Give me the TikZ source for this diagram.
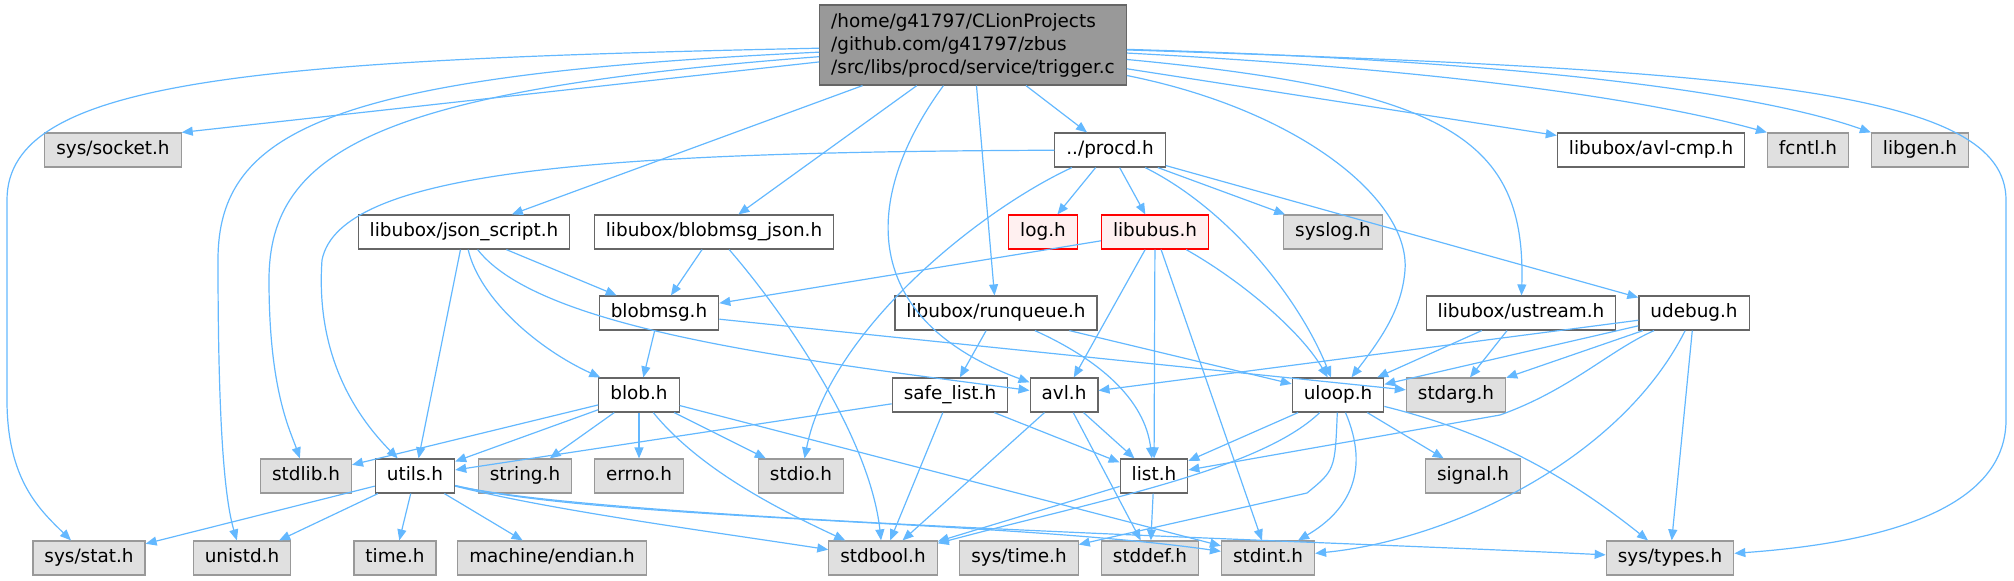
\documentclass[tikz,border=0pt]{standalone}
\usepackage{fontspec}
\setmainfont{DejaVu Sans}
\usetikzlibrary{arrows.meta}
\definecolor{edgeblue}{HTML}{63B8FF}
\definecolor{nodeline}{HTML}{666666}
\definecolor{extline}{HTML}{999999}
\definecolor{extfill}{HTML}{E0E0E0}
\definecolor{missfill}{HTML}{FFF0F0}

\begin{document}
\begin{tikzpicture}[
    x=0.5pt, y=-0.5pt,
    base/.style={line width=0.6pt, inner xsep=5.75pt, inner ysep=0pt, font=\fontsize{9.2}{11.5}\selectfont},
    hdr/.style={base, draw=nodeline, fill=white, minimum height=17pt, text height=7pt, text depth=2.2pt},
    ext/.style={hdr, draw=extline, fill=extfill},
    miss/.style={hdr, draw=red, fill=missfill},
    src/.style={base, draw=nodeline, fill=extline, align=left, minimum height=40pt},
    inc/.style={edgeblue, line width=0.6pt, -{Triangle[length=5.5pt, width=4.5pt]}}
]
\def\yRoot{45}
\def\yA{150}
\def\yB{232}
\def\yC{313}
\def\yD{395}
\def\yE{476}
\def\yF{558}

\useasboundingbox (0,0) rectangle (2014,580);

% Source file
\node[src] (root) at (973,\yRoot) {/home/g41797/CLionProjects\\/github.com/g41797/zbus\\/src/libs/procd/service/trigger.c};

% Headers, row by row
\node[ext]  (socket)   at (113,\yA)  {sys/socket.h};
\node[hdr]  (procd)    at (1110,\yA) {../procd.h};
\node[hdr]  (avlcmp)   at (1651,\yA) {libubox/avl-cmp.h};
\node[ext]  (fcntl)    at (1808,\yA) {fcntl.h};
\node[ext]  (libgen)   at (1920,\yA) {libgen.h};

\node[hdr]  (json)     at (464,\yB)  {libubox/json\_script.h};
\node[hdr]  (bmjson)   at (714,\yB)  {libubox/blobmsg\_json.h};
\node[miss] (log)      at (1043,\yB) {log.h};
\node[miss] (ubus)     at (1155,\yB) {libubus.h};
\node[ext]  (syslog)   at (1333,\yB) {syslog.h};

\node[hdr]  (blobmsg)  at (659,\yC)  {blobmsg.h};
\node[hdr]  (runq)     at (996,\yC)  {libubox/runqueue.h};
\node[hdr]  (ustream)  at (1521,\yC) {libubox/ustream.h};
\node[hdr]  (udebug)   at (1694,\yC) {udebug.h};

\node[hdr]  (blob)     at (639,\yD)  {blob.h};
\node[hdr]  (safelist) at (950,\yD)  {safe\_list.h};
\node[hdr]  (avl)      at (1064,\yD) {avl.h};
\node[hdr]  (uloop)    at (1338,\yD) {uloop.h};
\node[ext]  (stdarg)   at (1456,\yD) {stdarg.h};

\node[ext]  (stdlib)   at (306,\yE)  {stdlib.h};
\node[hdr]  (utils)    at (415,\yE)  {utils.h};
\node[ext]  (string)   at (525,\yE)  {string.h};
\node[ext]  (errno)    at (639,\yE)  {errno.h};
\node[ext]  (stdio)    at (801,\yE)  {stdio.h};
\node[hdr]  (list)     at (1154,\yE) {list.h};
\node[ext]  (signal)   at (1473,\yE) {signal.h};

\node[ext]  (sysstat)  at (89,\yF)   {sys/stat.h};
\node[ext]  (unistd)   at (242,\yF)  {unistd.h};
\node[ext]  (time)     at (395,\yF)  {time.h};
\node[ext]  (endian)   at (552,\yF)  {machine/endian.h};
\node[ext]  (stdbool)  at (883,\yF)  {stdbool.h};
\node[ext]  (systime)  at (1019,\yF) {sys/time.h};
\node[ext]  (stddef)   at (1150,\yF) {stddef.h};
\node[ext]  (stdint)   at (1268,\yF) {stdint.h};
\node[ext]  (systypes) at (1670,\yF) {sys/types.h};

% trigger.c
\draw[inc] (root) -- (socket.north east);
\draw[inc] (root) .. controls (250,60) and (7,80) .. (7,200) -- (7,400) .. controls (7,480) and (40,510) .. (sysstat);
\draw[inc] (root) .. controls (330,75) and (218,130) .. (218,260) .. controls (218,430) and (225,500) .. (unistd);
\draw[inc] (root) .. controls (380,90) and (269,150) .. (269,280) .. controls (269,390) and (290,430) .. (stdlib);
\draw[inc] (root) -- (json);
\draw[inc] (root) -- (bmjson);
\draw[inc] (root) .. controls (860,200) and (860,320) .. (avl);
\draw[inc] (root) -- (runq);
\draw[inc] (root) -- (procd);
\draw[inc] (root) .. controls (1300,110) and (1410,200) .. (1405,270) .. controls (1402,310) and (1380,340) .. (uloop);
\draw[inc] (root) .. controls (1450,90) and (1526,140) .. (ustream);
\draw[inc] (root) -- (avlcmp);
\draw[inc] (root) .. controls (1450,70) and (1650,100) .. (fcntl.north west);
\draw[inc] (root) .. controls (1500,60) and (1750,90) .. (libgen.north west);
\draw[inc] (root) .. controls (1750,70) and (2006,90) .. (2006,200) -- (2006,420) .. controls (2006,520) and (1850,545) .. (systypes);

% ../procd.h
\draw[inc] (procd) .. controls (600,152) and (340,170) .. (322,260) .. controls (315,360) and (360,420) .. (utils);
\draw[inc] (procd) .. controls (980,210) and (830,330) .. (stdio);
\draw[inc] (procd) -- (log);
\draw[inc] (procd) -- (ubus);
\draw[inc] (procd) -- (syslog);
\draw[inc] (procd) .. controls (1230,210) and (1300,300) .. (uloop);
\draw[inc] (procd) -- (udebug);

% libubox/json_script.h and libubox/blobmsg_json.h
\draw[inc] (json) -- (utils);
\draw[inc] (json) .. controls (480,300) and (540,350) .. (blob);
\draw[inc] (json) .. controls (540,330) and (800,360) .. (avl);
\draw[inc] (json) -- (blobmsg);
\draw[inc] (bmjson) -- (blobmsg);
\draw[inc] (bmjson) .. controls (790,320) and (870,440) .. (stdbool);

% libubus.h
\draw[inc] (ubus) -- (blobmsg);
\draw[inc] (ubus) -- (avl);
\draw[inc] (ubus) -- (list);
\draw[inc] (ubus) -- (stdint);
\draw[inc] (ubus) .. controls (1240,280) and (1300,330) .. (uloop);

% blobmsg.h, runqueue.h, ustream.h
\draw[inc] (blobmsg) -- (blob);
\draw[inc] (blobmsg) -- (stdarg);
\draw[inc] (runq) -- (safelist);
\draw[inc] (runq) .. controls (1100,360) and (1145,400) .. (list);
\draw[inc] (runq) -- (uloop);
\draw[inc] (ustream) -- (uloop);
\draw[inc] (ustream) -- (stdarg);

% udebug.h
\draw[inc] (udebug) -- (avl);
\draw[inc] (udebug) -- (uloop);
\draw[inc] (udebug) -- (stdarg);
\draw[inc] (udebug) .. controls (1610,350) and (1570,390) .. (1500,415) -- (list);
\draw[inc] (udebug) .. controls (1620,460) and (1450,540) .. (stdint);
\draw[inc] (udebug) -- (systypes);

% blob.h
\draw[inc] (blob) -- (stdlib);
\draw[inc] (blob) -- (utils);
\draw[inc] (blob) -- (string);
\draw[inc] (blob) -- (errno);
\draw[inc] (blob) -- (stdio);
\draw[inc] (blob) .. controls (700,470) and (780,510) .. (stdbool);
\draw[inc] (blob) -- (stdint);

% safe_list.h, avl.h
\draw[inc] (safelist) -- (utils);
\draw[inc] (safelist) -- (stdbool);
\draw[inc] (safelist) -- (list);
\draw[inc] (avl) -- (list);
\draw[inc] (avl) -- (stddef);
\draw[inc] (avl) -- (stdbool);

% uloop.h
\draw[inc] (uloop) -- (list);
\draw[inc] (uloop) .. controls (1260,470) and (1100,500) .. (stdbool);
\draw[inc] (uloop) .. controls (1335,470) .. (1307,493) -- (systime);
\draw[inc] (uloop) .. controls (1370,470) and (1350,510) .. (stdint);
\draw[inc] (uloop) -- (signal);
\draw[inc] (uloop) .. controls (1480,430) and (1560,470) .. (systypes);

% list.h
\draw[inc] (list) -- (stdbool);
\draw[inc] (list) -- (stddef);

% utils.h
\draw[inc] (utils) -- (sysstat);
\draw[inc] (utils) -- (unistd);
\draw[inc] (utils) -- (time);
\draw[inc] (utils) -- (endian);
\draw[inc] (utils) .. controls (550,510) and (700,530) .. (stdbool);
\draw[inc] (utils) .. controls (600,520) and (1000,520) .. (stdint);
\draw[inc] (utils) .. controls (600,520) and (1300,540) .. (systypes);

\end{tikzpicture}
\end{document}
